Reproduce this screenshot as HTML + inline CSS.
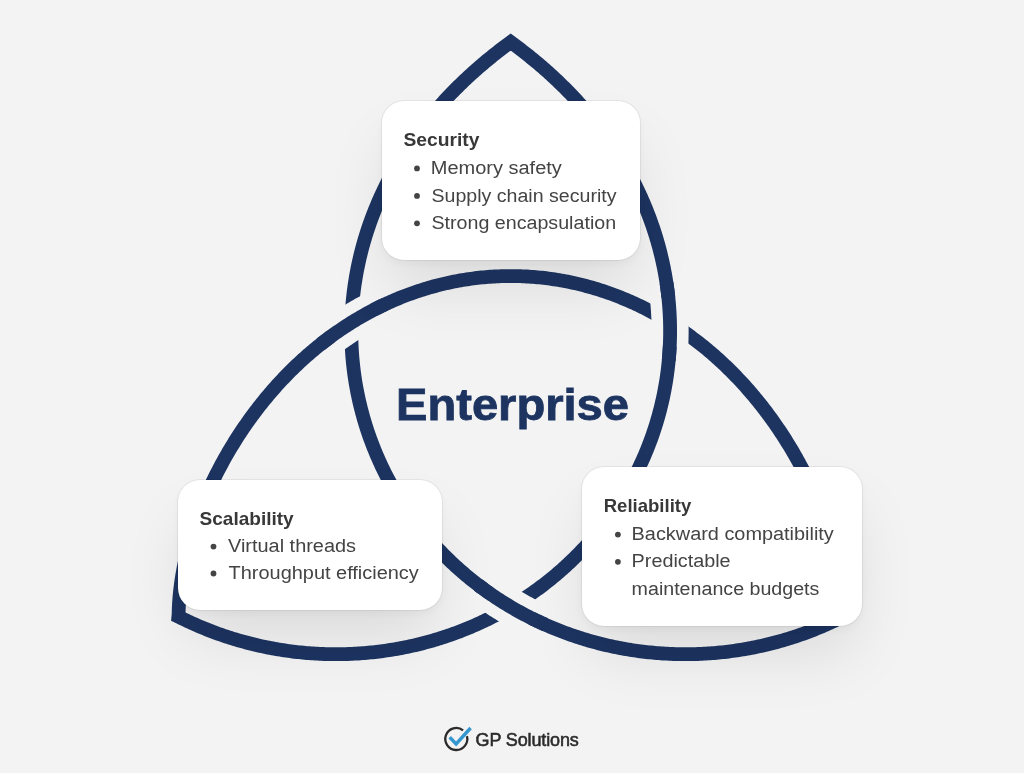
<!DOCTYPE html>
<html><head><meta charset="utf-8">
<style>
html,body{margin:0;padding:0;}
body{width:1024px;height:773px;overflow:hidden;position:relative;background:#f3f3f3;font-family:"Liberation Sans",sans-serif;}
.layer{position:absolute;left:0;top:0;width:1024px;height:773px;}
.box{position:absolute;background:#fff;border-radius:22px;box-shadow:0 0 0 1px rgba(0,0,0,0.055),0 4px 8px rgba(0,0,0,0.035),0 34px 64px -8px rgba(0,0,0,0.10);}
</style></head><body>
<svg class="layer" width="1024" height="773" viewBox="0 0 1024 773">
<defs>
<mask id="m" maskUnits="userSpaceOnUse" x="0" y="0" width="1024" height="773">
<rect x="0" y="0" width="1024" height="773" fill="#fff"/>
<g fill="none" stroke="#000" stroke-width="37" stroke-linecap="butt">
<path d="M330.66,336.66 L332.36,335.42 L334.07,334.19 L335.79,332.97 L337.51,331.76 L339.25,330.56 L340.99,329.37 L342.74,328.19 L344.50,327.02 L346.26,325.87 L348.04,324.72 L349.82,323.58 L351.61,322.46 L353.41,321.35 L355.22,320.25 L357.04,319.16 L358.86,318.08 L360.69,317.01 L362.53,315.96 L364.37,314.91 L366.23,313.88 L368.09,312.86 L369.96,311.86 L371.83,310.86 L373.71,309.88"/><path d="M668.33,297.27 L668.54,299.31 L668.74,301.35 L668.92,303.39 L669.09,305.43 L669.25,307.47 L669.39,309.51 L669.52,311.56 L669.64,313.60 L669.75,315.65 L669.84,317.69 L669.92,319.74 L669.98,321.79 L670.03,323.83 L670.07,325.88 L670.10,327.93 L670.11,329.98 L670.11,332.03 L670.10,334.08 L670.07,336.13 L670.03,338.18 L669.97,340.23 L669.91,342.28 L669.83,344.32 L669.73,346.37"/><path d="M489.61,593.32 L491.28,594.49 L492.97,595.64 L494.66,596.78 L496.36,597.91 L498.07,599.03 L499.78,600.14 L501.50,601.24 L503.23,602.33 L504.96,603.41 L506.70,604.48 L508.45,605.53 L510.20,606.58 L511.96,607.62 L513.73,608.64 L515.50,609.65 L517.28,610.66 L519.06,611.65 L520.85,612.63 L522.65,613.60 L524.45,614.56 L526.25,615.51 L528.07,616.45 L529.88,617.37 L531.71,618.29"/>
</g></mask>
</defs>
<path d="M510.70,42.10 L509.01,43.33 L507.33,44.57 L505.66,45.81 L503.99,47.06 L502.33,48.31 L500.68,49.57 L499.03,50.84 L497.39,52.11 L495.76,53.39 L494.13,54.68 L492.51,55.97 L490.90,57.27 L489.29,58.57 L487.69,59.89 L486.10,61.20 L484.51,62.53 L482.93,63.86 L481.36,65.19 L479.79,66.54 L478.24,67.89 L476.68,69.25 L475.14,70.61 L473.60,71.98 L472.07,73.35 L470.55,74.74 L469.04,76.13 L467.53,77.52 L466.03,78.93 L464.53,80.34 L463.05,81.75 L461.57,83.18 L460.10,84.60 L458.63,86.04 L457.18,87.48 L455.73,88.93 L454.29,90.39 L452.85,91.85 L451.43,93.32 L450.01,94.80 L448.60,96.28 L447.20,97.77 L445.80,99.27 L444.42,100.77 L443.04,102.28 L441.67,103.80 L440.31,105.33 L438.95,106.86 L437.61,108.39 L436.27,109.94 L434.94,111.49 L433.62,113.05 L432.31,114.61 L431.01,116.18 L429.71,117.76 L428.42,119.34 L427.15,120.93 L425.88,122.53 L424.62,124.14 L423.36,125.75 L422.12,127.36 L420.89,128.99 L419.66,130.62 L418.45,132.26 L417.24,133.90 L416.04,135.55 L414.85,137.21 L413.68,138.87 L412.51,140.54 L411.35,142.21 L410.19,143.90 L409.05,145.58 L407.92,147.28 L406.80,148.98 L405.69,150.69 L404.58,152.40 L403.49,154.12 L402.41,155.85 L401.33,157.58 L400.27,159.32 L399.22,161.06 L398.17,162.81 L397.14,164.57 L396.11,166.33 L395.10,168.10 L394.10,169.87 L393.11,171.65 L392.12,173.44 L391.15,175.23 L390.19,177.03 L389.24,178.83 L388.30,180.64 L387.37,182.45 L386.45,184.27 L385.54,186.10 L384.65,187.93 L383.76,189.77 L382.88,191.61 L382.02,193.45 L381.17,195.30 L380.32,197.16 L379.49,199.02 L378.67,200.89 L377.86,202.76 L377.06,204.64 L376.28,206.52 L375.50,208.41 L374.74,210.30 L373.99,212.20 L373.25,214.10 L372.52,216.00 L371.80,217.92 L371.09,219.83 L370.40,221.75 L369.72,223.67 L369.04,225.60 L368.39,227.53 L367.74,229.47 L367.10,231.41 L366.48,233.35 L365.87,235.30 L365.27,237.25 L364.68,239.21 L364.11,241.17 L363.54,243.13 L362.99,245.10 L362.46,247.07 L361.93,249.05 L361.42,251.02 L360.91,253.00 L360.42,254.99 L359.95,256.98 L359.48,258.97 L359.03,260.96 L358.59,262.96 L358.17,264.96 L357.75,266.96 L357.35,268.96 L356.96,270.97 L356.58,272.98 L356.22,274.99 L355.87,277.01 L355.53,279.03 L355.21,281.05 L354.89,283.07 L354.59,285.09 L354.31,287.12 L354.03,289.15 L353.77,291.17 L353.52,293.21 L353.29,295.24 L353.07,297.27 L352.86,299.31 L352.66,301.35 L352.48,303.39 L352.31,305.43 L352.15,307.47 L352.01,309.51 L351.88,311.56 L351.76,313.60 L351.65,315.65 L351.56,317.69 L351.48,319.74 L351.42,321.79 L351.37,323.83 L351.33,325.88 L351.30,327.93 L351.29,329.98 L351.29,332.03 L351.30,334.08 L351.33,336.13 L351.37,338.18 L351.43,340.23 L351.49,342.28 L351.57,344.32 L351.67,346.37 L351.77,348.42 L351.89,350.46 L352.03,352.51 L352.17,354.56 L352.33,356.60 L352.51,358.64 L352.69,360.68 L352.89,362.73 L353.11,364.77 L353.33,366.80 L353.57,368.84 L353.82,370.88 L354.09,372.91 L354.37,374.94 L354.66,376.97 L354.96,379.00 L355.28,381.03 L355.61,383.05 L355.96,385.07 L356.32,387.09 L356.69,389.11 L357.07,391.13 L357.47,393.14 L357.88,395.15 L358.30,397.16 L358.74,399.16 L359.19,401.16 L359.65,403.16 L360.12,405.16 L360.61,407.15 L361.11,409.14 L361.63,411.12 L362.16,413.11 L362.69,415.09 L363.25,417.06 L363.81,419.04 L364.39,421.00 L364.98,422.97 L365.59,424.93 L366.20,426.89 L366.83,428.84 L367.47,430.79 L368.13,432.73 L368.79,434.67 L369.47,436.61 L370.17,438.54 L370.87,440.47 L371.59,442.39 L372.32,444.31 L373.06,446.22 L373.81,448.13 L374.58,450.03 L375.36,451.93 L376.15,453.82 L376.95,455.71 L377.77,457.59 L378.60,459.47 L379.44,461.34 L380.29,463.21 L381.15,465.07 L382.03,466.92 L382.91,468.77 L383.81,470.61 L384.72,472.45 L385.65,474.28 L386.58,476.11 L387.53,477.93 L388.49,479.74 L389.46,481.55 L390.44,483.35 L391.43,485.14 L392.44,486.93 L393.45,488.71 L394.48,490.48 L395.52,492.25 L396.57,494.01 L397.63,495.76 L398.70,497.51 L399.78,499.25 L400.88,500.98 L401.98,502.71 L403.10,504.43 L404.23,506.14 L405.36,507.85 L406.51,509.54 L407.67,511.23 L408.84,512.91 L410.02,514.59 L411.21,516.25 L412.42,517.91 L413.63,519.56 L414.85,521.21 L416.09,522.84 L417.33,524.47 L418.58,526.09 L419.85,527.70 L421.12,529.30 L422.40,530.90 L423.70,532.49 L425.00,534.06 L426.32,535.63 L427.64,537.20 L428.97,538.75 L430.32,540.29 L431.67,541.83 L433.03,543.36 L434.41,544.87 L435.79,546.38 L437.18,547.89 L438.58,549.38 L439.99,550.86 L441.41,552.34 L442.83,553.80 L444.27,555.26 L445.72,556.70 L447.17,558.14 L448.64,559.57 L450.11,560.99 L451.59,562.40 L453.08,563.80 L454.58,565.19 L456.09,566.57 L457.60,567.94 L459.13,569.31 L460.66,570.66 L462.20,572.00 L463.75,573.34 L465.31,574.66 L466.87,575.97 L468.45,577.28 L470.03,578.57 L471.62,579.86 L473.22,581.13 L474.82,582.40 L476.43,583.65 L478.05,584.90 L479.68,586.13 L481.32,587.35 L482.96,588.57 L484.61,589.77 L486.27,590.97 L487.93,592.15 L489.61,593.32 L491.28,594.49 L492.97,595.64 L494.66,596.78 L496.36,597.91 L498.07,599.03 L499.78,600.14 L501.50,601.24 L503.23,602.33 L504.96,603.41 L506.70,604.48 L508.45,605.53 L510.20,606.58 L511.96,607.62 L513.73,608.64 L515.50,609.65 L517.28,610.66 L519.06,611.65 L520.85,612.63 L522.65,613.60 L524.45,614.56 L526.25,615.51 L528.07,616.45 L529.88,617.37 L531.71,618.29 L533.54,619.19 L535.37,620.09 L537.21,620.97 L539.06,621.84 L540.91,622.70 L542.76,623.55 L544.62,624.39 L546.49,625.21 L548.36,626.03 L550.23,626.83 L552.11,627.63 L554.00,628.41 L555.89,629.18 L557.78,629.94 L559.68,630.68 L561.58,631.42 L563.49,632.14 L565.40,632.86 L567.32,633.56 L569.24,634.25 L571.16,634.93 L573.09,635.59 L575.03,636.25 L576.96,636.89 L578.90,637.52 L580.85,638.14 L582.79,638.75 L584.74,639.35 L586.70,639.94 L588.66,640.51 L590.62,641.08 L592.58,641.63 L594.55,642.17 L596.52,642.69 L598.50,643.21 L600.48,643.71 L602.46,644.21 L604.44,644.69 L606.43,645.16 L608.42,645.62 L610.41,646.06 L612.41,646.50 L614.41,646.92 L616.41,647.33 L618.41,647.73 L620.41,648.11 L622.42,648.49 L624.43,648.85 L626.45,649.20 L628.46,649.54 L630.48,649.87 L632.50,650.19 L634.52,650.49 L636.54,650.78 L638.56,651.06 L640.59,651.33 L642.62,651.59 L644.65,651.83 L646.68,652.06 L648.71,652.29 L650.75,652.49 L652.78,652.69 L654.82,652.88 L656.86,653.05 L658.90,653.21 L660.94,653.36 L662.98,653.50 L665.03,653.62 L667.07,653.73 L669.12,653.84 L671.16,653.92 L673.21,654.00 L675.26,654.07 L677.30,654.12 L679.35,654.16 L681.40,654.19 L683.45,654.21 L685.50,654.21 L687.55,654.21 L689.60,654.19 L691.65,654.16 L693.70,654.11 L695.76,654.06 L697.81,653.99 L699.86,653.91 L701.91,653.82 L703.96,653.72 L706.01,653.60 L708.06,653.47 L710.11,653.34 L712.16,653.18 L714.21,653.02 L716.25,652.84 L718.30,652.66 L720.35,652.46 L722.39,652.25 L724.44,652.02 L726.48,651.79 L728.53,651.54 L730.57,651.28 L732.61,651.01 L734.65,650.72 L736.69,650.43 L738.72,650.12 L740.76,649.80 L742.79,649.47 L744.83,649.12 L746.86,648.77 L748.89,648.40 L750.92,648.02 L752.94,647.62 L754.97,647.22 L756.99,646.80 L759.01,646.37 L761.03,645.93 L763.04,645.48 L765.06,645.02 L767.07,644.54 L769.08,644.05 L771.08,643.55 L773.09,643.04 L775.09,642.51 L777.09,641.97 L779.09,641.42 L781.08,640.86 L783.07,640.29 L785.06,639.70 L787.04,639.11 L789.03,638.50 L791.01,637.88 L792.98,637.24 L794.95,636.60 L796.92,635.94 L798.89,635.27 L800.85,634.59 L802.81,633.90 L804.77,633.19 L806.72,632.48 L808.67,631.75 L810.61,631.01 L812.55,630.25 L814.49,629.49 L816.42,628.71 L818.35,627.92 L820.27,627.12 L822.19,626.31 L824.10,625.49 L826.01,624.65 L827.92,623.80 L829.82,622.94 L831.72,622.07 L833.61,621.19 L835.50,620.29 L837.38,619.39 L839.26,618.47 L841.13,617.54 L843.00,616.60 L842.79,614.52 L842.75,612.45 L842.70,610.37 L842.62,608.29 L842.53,606.22 L842.42,604.15 L842.29,602.07 L842.14,600.00 L841.98,597.93 L841.80,595.86 L841.61,593.79 L841.39,591.73 L841.17,589.66 L840.92,587.60 L840.66,585.54 L840.39,583.48 L840.10,581.43 L839.79,579.38 L839.47,577.33 L839.13,575.28 L838.78,573.24 L838.42,571.19 L838.04,569.16 L837.65,567.12 L837.24,565.09 L836.82,563.06 L836.39,561.03 L835.94,559.01 L835.48,556.99 L835.01,554.98 L834.53,552.96 L834.03,550.96 L833.52,548.95 L832.99,546.95 L832.46,544.95 L831.91,542.96 L831.35,540.97 L830.78,538.98 L830.19,537.00 L829.60,535.02 L828.99,533.05 L828.37,531.08 L827.74,529.11 L827.10,527.15 L826.45,525.19 L825.79,523.24 L825.11,521.29 L824.43,519.34 L823.73,517.40 L823.03,515.47 L822.31,513.54 L821.58,511.61 L820.85,509.68 L820.10,507.77 L819.34,505.85 L818.57,503.94 L817.80,502.03 L817.01,500.13 L816.21,498.24 L815.40,496.34 L814.59,494.46 L813.76,492.57 L812.92,490.69 L812.08,488.82 L811.22,486.95 L810.36,485.09 L809.48,483.23 L808.60,481.37 L807.70,479.52 L806.80,477.67 L805.89,475.83 L804.97,473.99 L804.04,472.16 L803.10,470.34 L802.15,468.51 L801.19,466.70 L800.22,464.88 L799.25,463.08 L798.26,461.27 L797.27,459.47 L796.27,457.68 L795.25,455.89 L794.23,454.11 L793.20,452.33 L792.17,450.56 L791.12,448.79 L790.06,447.03 L789.00,445.27 L787.92,443.52 L786.84,441.77 L785.75,440.03 L784.65,438.29 L783.54,436.56 L782.42,434.83 L781.29,433.11 L780.16,431.40 L779.01,429.69 L777.86,427.98 L776.70,426.28 L775.52,424.59 L774.34,422.90 L773.16,421.22 L771.96,419.54 L770.75,417.87 L769.54,416.20 L768.31,414.55 L767.08,412.89 L765.84,411.24 L764.59,409.60 L763.33,407.97 L762.06,406.34 L760.78,404.71 L759.50,403.10 L758.20,401.49 L756.90,399.88 L755.58,398.28 L754.26,396.69 L752.93,395.11 L751.59,393.53 L750.25,391.96 L748.89,390.39 L747.52,388.83 L746.15,387.28 L744.76,385.74 L743.37,384.20 L741.97,382.67 L740.56,381.15 L739.14,379.63 L737.71,378.12 L736.27,376.62 L734.83,375.13 L733.37,373.64 L731.91,372.16 L730.43,370.69 L728.95,369.23 L727.46,367.77 L725.96,366.32 L724.45,364.88 L722.94,363.45 L721.41,362.03 L719.87,360.61 L718.33,359.21 L716.78,357.81 L715.22,356.42 L713.65,355.04 L712.07,353.66 L710.48,352.30 L708.88,350.95 L707.28,349.60 L705.66,348.26 L704.04,346.94 L702.41,345.62 L700.77,344.31 L699.12,343.01 L697.46,341.72 L695.79,340.44 L694.12,339.17 L692.43,337.91 L690.74,336.66 L689.04,335.42 L687.33,334.19 L685.61,332.97 L683.89,331.76 L682.15,330.56 L680.41,329.37 L678.66,328.19 L676.90,327.02 L675.14,325.87 L673.36,324.72 L671.58,323.58 L669.79,322.46 L667.99,321.35 L666.18,320.25 L664.36,319.16 L662.54,318.08 L660.71,317.01 L658.87,315.96 L657.03,314.91 L655.17,313.88 L653.31,312.86 L651.44,311.86 L649.57,310.86 L647.69,309.88 L645.80,308.91 L643.90,307.95 L641.99,307.00 L640.08,306.07 L638.16,305.15 L636.24,304.24 L634.30,303.35 L632.37,302.47 L630.42,301.60 L628.47,300.74 L626.51,299.90 L624.54,299.07 L622.57,298.26 L620.59,297.46 L618.61,296.67 L616.62,295.89 L614.62,295.13 L612.62,294.39 L610.62,293.65 L608.60,292.93 L606.58,292.23 L604.56,291.54 L602.53,290.86 L600.49,290.20 L598.45,289.55 L596.41,288.92 L594.36,288.30 L592.31,287.70 L590.25,287.11 L588.18,286.53 L586.11,285.97 L584.04,285.43 L581.96,284.90 L579.88,284.38 L577.79,283.88 L575.70,283.39 L573.61,282.92 L571.51,282.47 L569.41,282.03 L567.31,281.60 L565.20,281.19 L563.09,280.80 L560.98,280.42 L558.86,280.06 L556.74,279.71 L554.62,279.38 L552.49,279.06 L550.36,278.76 L548.23,278.48 L546.10,278.21 L543.97,277.95 L541.83,277.71 L539.69,277.49 L537.55,277.28 L535.41,277.09 L533.26,276.92 L531.12,276.76 L528.97,276.62 L526.83,276.49 L524.68,276.38 L522.53,276.28 L520.38,276.20 L518.23,276.14 L516.08,276.09 L513.93,276.06 L511.78,276.04 L509.62,276.04 L507.47,276.06 L505.32,276.09 L503.17,276.14 L501.02,276.20 L498.87,276.28 L496.72,276.38 L494.57,276.49 L492.43,276.62 L490.28,276.76 L488.14,276.92 L485.99,277.09 L483.85,277.28 L481.71,277.49 L479.57,277.71 L477.43,277.95 L475.30,278.21 L473.17,278.48 L471.04,278.76 L468.91,279.06 L466.78,279.38 L464.66,279.71 L462.54,280.06 L460.42,280.42 L458.31,280.80 L456.20,281.19 L454.09,281.60 L451.99,282.03 L449.89,282.47 L447.79,282.92 L445.70,283.39 L443.61,283.88 L441.52,284.38 L439.44,284.90 L437.36,285.43 L435.29,285.97 L433.22,286.53 L431.15,287.11 L429.09,287.70 L427.04,288.30 L424.99,288.92 L422.95,289.55 L420.91,290.20 L418.87,290.86 L416.84,291.54 L414.82,292.23 L412.80,292.93 L410.78,293.65 L408.78,294.39 L406.78,295.13 L404.78,295.89 L402.79,296.67 L400.81,297.46 L398.83,298.26 L396.86,299.07 L394.89,299.90 L392.93,300.74 L390.98,301.60 L389.03,302.47 L387.10,303.35 L385.16,304.24 L383.24,305.15 L381.32,306.07 L379.41,307.00 L377.50,307.95 L375.60,308.91 L373.71,309.88 L371.83,310.86 L369.96,311.86 L368.09,312.86 L366.23,313.88 L364.37,314.91 L362.53,315.96 L360.69,317.01 L358.86,318.08 L357.04,319.16 L355.22,320.25 L353.41,321.35 L351.61,322.46 L349.82,323.58 L348.04,324.72 L346.26,325.87 L344.50,327.02 L342.74,328.19 L340.99,329.37 L339.25,330.56 L337.51,331.76 L335.79,332.97 L334.07,334.19 L332.36,335.42 L330.66,336.66 L328.97,337.91 L327.28,339.17 L325.61,340.44 L323.94,341.72 L322.28,343.01 L320.63,344.31 L318.99,345.62 L317.36,346.94 L315.74,348.26 L314.12,349.60 L312.52,350.95 L310.92,352.30 L309.33,353.66 L307.75,355.04 L306.18,356.42 L304.62,357.81 L303.07,359.21 L301.53,360.61 L299.99,362.03 L298.46,363.45 L296.95,364.88 L295.44,366.32 L293.94,367.77 L292.45,369.23 L290.97,370.69 L289.49,372.16 L288.03,373.64 L286.57,375.13 L285.13,376.62 L283.69,378.12 L282.26,379.63 L280.84,381.15 L279.43,382.67 L278.03,384.20 L276.64,385.74 L275.25,387.28 L273.88,388.83 L272.51,390.39 L271.15,391.96 L269.81,393.53 L268.47,395.11 L267.14,396.69 L265.82,398.28 L264.50,399.88 L263.20,401.49 L261.90,403.10 L260.62,404.71 L259.34,406.34 L258.07,407.97 L256.81,409.60 L255.56,411.24 L254.32,412.89 L253.09,414.55 L251.86,416.20 L250.65,417.87 L249.44,419.54 L248.24,421.22 L247.06,422.90 L245.88,424.59 L244.70,426.28 L243.54,427.98 L242.39,429.69 L241.24,431.40 L240.11,433.11 L238.98,434.83 L237.86,436.56 L236.75,438.29 L235.65,440.03 L234.56,441.77 L233.48,443.52 L232.40,445.27 L231.34,447.03 L230.28,448.79 L229.23,450.56 L228.20,452.33 L227.17,454.11 L226.15,455.89 L225.13,457.68 L224.13,459.47 L223.14,461.27 L222.15,463.08 L221.18,464.88 L220.21,466.70 L219.25,468.51 L218.30,470.34 L217.36,472.16 L216.43,473.99 L215.51,475.83 L214.60,477.67 L213.70,479.52 L212.80,481.37 L211.92,483.23 L211.04,485.09 L210.18,486.95 L209.32,488.82 L208.48,490.69 L207.64,492.57 L206.81,494.46 L206.00,496.34 L205.19,498.24 L204.39,500.13 L203.60,502.03 L202.83,503.94 L202.06,505.85 L201.30,507.77 L200.55,509.68 L199.82,511.61 L199.09,513.54 L198.37,515.47 L197.67,517.40 L196.97,519.34 L196.29,521.29 L195.61,523.24 L194.95,525.19 L194.30,527.15 L193.66,529.11 L193.03,531.08 L192.41,533.05 L191.80,535.02 L191.21,537.00 L190.62,538.98 L190.05,540.97 L189.49,542.96 L188.94,544.95 L188.41,546.95 L187.88,548.95 L187.37,550.96 L186.87,552.96 L186.39,554.98 L185.92,556.99 L185.46,559.01 L185.01,561.03 L184.58,563.06 L184.16,565.09 L183.75,567.12 L183.36,569.16 L182.98,571.19 L182.62,573.24 L182.27,575.28 L181.93,577.33 L181.61,579.38 L181.30,581.43 L181.01,583.48 L180.74,585.54 L180.48,587.60 L180.23,589.66 L180.01,591.73 L179.79,593.79 L179.60,595.86 L179.42,597.93 L179.26,600.00 L179.11,602.07 L178.98,604.15 L178.87,606.22 L178.78,608.29 L178.70,610.37 L178.65,612.45 L178.61,614.52 L178.40,616.60 L180.27,617.54 L182.14,618.47 L184.02,619.39 L185.90,620.29 L187.79,621.19 L189.68,622.07 L191.58,622.94 L193.48,623.80 L195.39,624.65 L197.30,625.49 L199.21,626.31 L201.13,627.12 L203.05,627.92 L204.98,628.71 L206.91,629.49 L208.85,630.25 L210.79,631.01 L212.73,631.75 L214.68,632.48 L216.63,633.19 L218.59,633.90 L220.55,634.59 L222.51,635.27 L224.48,635.94 L226.45,636.60 L228.42,637.24 L230.39,637.88 L232.37,638.50 L234.36,639.11 L236.34,639.70 L238.33,640.29 L240.32,640.86 L242.31,641.42 L244.31,641.97 L246.31,642.51 L248.31,643.04 L250.32,643.55 L252.32,644.05 L254.33,644.54 L256.34,645.02 L258.36,645.48 L260.37,645.93 L262.39,646.37 L264.41,646.80 L266.43,647.22 L268.46,647.62 L270.48,648.02 L272.51,648.40 L274.54,648.77 L276.57,649.12 L278.61,649.47 L280.64,649.80 L282.68,650.12 L284.71,650.43 L286.75,650.72 L288.79,651.01 L290.83,651.28 L292.87,651.54 L294.92,651.79 L296.96,652.02 L299.01,652.25 L301.05,652.46 L303.10,652.66 L305.15,652.84 L307.19,653.02 L309.24,653.18 L311.29,653.34 L313.34,653.47 L315.39,653.60 L317.44,653.72 L319.49,653.82 L321.54,653.91 L323.59,653.99 L325.64,654.06 L327.70,654.11 L329.75,654.16 L331.80,654.19 L333.85,654.21 L335.90,654.21 L337.95,654.21 L340.00,654.19 L342.05,654.16 L344.10,654.12 L346.14,654.07 L348.19,654.00 L350.24,653.92 L352.28,653.84 L354.33,653.73 L356.37,653.62 L358.42,653.50 L360.46,653.36 L362.50,653.21 L364.54,653.05 L366.58,652.88 L368.62,652.69 L370.65,652.49 L372.69,652.29 L374.72,652.06 L376.75,651.83 L378.78,651.59 L380.81,651.33 L382.84,651.06 L384.86,650.78 L386.88,650.49 L388.90,650.19 L390.92,649.87 L392.94,649.54 L394.95,649.20 L396.97,648.85 L398.98,648.49 L400.99,648.11 L402.99,647.73 L404.99,647.33 L406.99,646.92 L408.99,646.50 L410.99,646.06 L412.98,645.62 L414.97,645.16 L416.96,644.69 L418.94,644.21 L420.92,643.71 L422.90,643.21 L424.88,642.69 L426.85,642.17 L428.82,641.63 L430.78,641.08 L432.74,640.51 L434.70,639.94 L436.66,639.35 L438.61,638.75 L440.55,638.14 L442.50,637.52 L444.44,636.89 L446.37,636.25 L448.31,635.59 L450.24,634.93 L452.16,634.25 L454.08,633.56 L456.00,632.86 L457.91,632.14 L459.82,631.42 L461.72,630.68 L463.62,629.94 L465.51,629.18 L467.40,628.41 L469.29,627.63 L471.17,626.83 L473.04,626.03 L474.91,625.21 L476.78,624.39 L478.64,623.55 L480.49,622.70 L482.34,621.84 L484.19,620.97 L486.03,620.09 L487.86,619.19 L489.69,618.29 L491.52,617.37 L493.33,616.45 L495.15,615.51 L496.95,614.56 L498.75,613.60 L500.55,612.63 L502.34,611.65 L504.12,610.66 L505.90,609.65 L507.67,608.64 L509.44,607.62 L511.20,606.58 L512.95,605.53 L514.70,604.48 L516.44,603.41 L518.17,602.33 L519.90,601.24 L521.62,600.14 L523.33,599.03 L525.04,597.91 L526.74,596.78 L528.43,595.64 L530.12,594.49 L531.79,593.32 L533.47,592.15 L535.13,590.97 L536.79,589.77 L538.44,588.57 L540.08,587.35 L541.72,586.13 L543.35,584.90 L544.97,583.65 L546.58,582.40 L548.18,581.13 L549.78,579.86 L551.37,578.57 L552.95,577.28 L554.53,575.97 L556.09,574.66 L557.65,573.34 L559.20,572.00 L560.74,570.66 L562.27,569.31 L563.80,567.94 L565.31,566.57 L566.82,565.19 L568.32,563.80 L569.81,562.40 L571.29,560.99 L572.76,559.57 L574.23,558.14 L575.68,556.70 L577.13,555.26 L578.57,553.80 L579.99,552.34 L581.41,550.86 L582.82,549.38 L584.22,547.89 L585.61,546.38 L586.99,544.87 L588.37,543.36 L589.73,541.83 L591.08,540.29 L592.43,538.75 L593.76,537.20 L595.08,535.63 L596.40,534.06 L597.70,532.49 L599.00,530.90 L600.28,529.30 L601.55,527.70 L602.82,526.09 L604.07,524.47 L605.31,522.84 L606.55,521.21 L607.77,519.56 L608.98,517.91 L610.19,516.25 L611.38,514.59 L612.56,512.91 L613.73,511.23 L614.89,509.54 L616.04,507.85 L617.17,506.14 L618.30,504.43 L619.42,502.71 L620.52,500.98 L621.62,499.25 L622.70,497.51 L623.77,495.76 L624.83,494.01 L625.88,492.25 L626.92,490.48 L627.95,488.71 L628.96,486.93 L629.97,485.14 L630.96,483.35 L631.94,481.55 L632.91,479.74 L633.87,477.93 L634.82,476.11 L635.75,474.28 L636.68,472.45 L637.59,470.61 L638.49,468.77 L639.37,466.92 L640.25,465.07 L641.11,463.21 L641.96,461.34 L642.80,459.47 L643.63,457.59 L644.45,455.71 L645.25,453.82 L646.04,451.93 L646.82,450.03 L647.59,448.13 L648.34,446.22 L649.08,444.31 L649.81,442.39 L650.53,440.47 L651.23,438.54 L651.93,436.61 L652.61,434.67 L653.27,432.73 L653.93,430.79 L654.57,428.84 L655.20,426.89 L655.81,424.93 L656.42,422.97 L657.01,421.00 L657.59,419.04 L658.15,417.06 L658.71,415.09 L659.24,413.11 L659.77,411.12 L660.29,409.14 L660.79,407.15 L661.28,405.16 L661.75,403.16 L662.21,401.16 L662.66,399.16 L663.10,397.16 L663.52,395.15 L663.93,393.14 L664.33,391.13 L664.71,389.11 L665.08,387.09 L665.44,385.07 L665.79,383.05 L666.12,381.03 L666.44,379.00 L666.74,376.97 L667.03,374.94 L667.31,372.91 L667.58,370.88 L667.83,368.84 L668.07,366.80 L668.29,364.77 L668.51,362.73 L668.71,360.68 L668.89,358.64 L669.07,356.60 L669.23,354.56 L669.37,352.51 L669.51,350.46 L669.63,348.42 L669.73,346.37 L669.83,344.32 L669.91,342.28 L669.97,340.23 L670.03,338.18 L670.07,336.13 L670.10,334.08 L670.11,332.03 L670.11,329.98 L670.10,327.93 L670.07,325.88 L670.03,323.83 L669.98,321.79 L669.92,319.74 L669.84,317.69 L669.75,315.65 L669.64,313.60 L669.52,311.56 L669.39,309.51 L669.25,307.47 L669.09,305.43 L668.92,303.39 L668.74,301.35 L668.54,299.31 L668.33,297.27 L668.11,295.24 L667.88,293.21 L667.63,291.17 L667.37,289.15 L667.09,287.12 L666.81,285.09 L666.51,283.07 L666.19,281.05 L665.87,279.03 L665.53,277.01 L665.18,274.99 L664.82,272.98 L664.44,270.97 L664.05,268.96 L663.65,266.96 L663.23,264.96 L662.81,262.96 L662.37,260.96 L661.92,258.97 L661.45,256.98 L660.98,254.99 L660.49,253.00 L659.98,251.02 L659.47,249.05 L658.94,247.07 L658.41,245.10 L657.86,243.13 L657.29,241.17 L656.72,239.21 L656.13,237.25 L655.53,235.30 L654.92,233.35 L654.30,231.41 L653.66,229.47 L653.01,227.53 L652.36,225.60 L651.68,223.67 L651.00,221.75 L650.31,219.83 L649.60,217.92 L648.88,216.00 L648.15,214.10 L647.41,212.20 L646.66,210.30 L645.90,208.41 L645.12,206.52 L644.34,204.64 L643.54,202.76 L642.73,200.89 L641.91,199.02 L641.08,197.16 L640.23,195.30 L639.38,193.45 L638.52,191.61 L637.64,189.77 L636.75,187.93 L635.86,186.10 L634.95,184.27 L634.03,182.45 L633.10,180.64 L632.16,178.83 L631.21,177.03 L630.25,175.23 L629.28,173.44 L628.29,171.65 L627.30,169.87 L626.30,168.10 L625.29,166.33 L624.26,164.57 L623.23,162.81 L622.18,161.06 L621.13,159.32 L620.07,157.58 L618.99,155.85 L617.91,154.12 L616.82,152.40 L615.71,150.69 L614.60,148.98 L613.48,147.28 L612.35,145.58 L611.21,143.90 L610.05,142.21 L608.89,140.54 L607.72,138.87 L606.55,137.21 L605.36,135.55 L604.16,133.90 L602.95,132.26 L601.74,130.62 L600.51,128.99 L599.28,127.36 L598.04,125.75 L596.78,124.14 L595.52,122.53 L594.25,120.93 L592.98,119.34 L591.69,117.76 L590.39,116.18 L589.09,114.61 L587.78,113.05 L586.46,111.49 L585.13,109.94 L583.79,108.39 L582.45,106.86 L581.09,105.33 L579.73,103.80 L578.36,102.28 L576.98,100.77 L575.60,99.27 L574.20,97.77 L572.80,96.28 L571.39,94.80 L569.97,93.32 L568.55,91.85 L567.11,90.39 L565.67,88.93 L564.22,87.48 L562.77,86.04 L561.30,84.60 L559.83,83.18 L558.35,81.75 L556.87,80.34 L555.37,78.93 L553.87,77.52 L552.36,76.13 L550.85,74.74 L549.33,73.35 L547.80,71.98 L546.26,70.61 L544.72,69.25 L543.16,67.89 L541.61,66.54 L540.04,65.19 L538.47,63.86 L536.89,62.53 L535.30,61.20 L533.71,59.89 L532.11,58.57 L530.50,57.27 L528.89,55.97 L527.27,54.68 L525.64,53.39 L524.01,52.11 L522.37,50.84 L520.72,49.57 L519.07,48.31 L517.41,47.06 L515.74,45.81 L514.07,44.57 L512.39,43.33 Z" fill="none" stroke="#1d3461" stroke-width="13.8" stroke-linejoin="miter" stroke-miterlimit="10" mask="url(#m)"/>
<g fill="none" stroke="#1d3461" stroke-width="13.8" stroke-linecap="butt">
<path d="M320.63,344.31 L322.28,343.01 L323.94,341.72 L325.61,340.44 L327.28,339.17 L328.97,337.91 L330.66,336.66 L332.36,335.42 L334.07,334.19 L335.79,332.97 L337.51,331.76 L339.25,330.56 L340.99,329.37 L342.74,328.19 L344.50,327.02 L346.26,325.87 L348.04,324.72 L349.82,323.58 L351.61,322.46 L353.41,321.35 L355.22,320.25 L357.04,319.16 L358.86,318.08 L360.69,317.01 L362.53,315.96 L364.37,314.91 L366.23,313.88 L368.09,312.86 L369.96,311.86 L371.83,310.86 L373.71,309.88 L375.60,308.91 L377.50,307.95 L379.41,307.00 L381.32,306.07 L383.24,305.15 L385.16,304.24"/><path d="M666.51,283.07 L666.81,285.09 L667.09,287.12 L667.37,289.15 L667.63,291.17 L667.88,293.21 L668.11,295.24 L668.33,297.27 L668.54,299.31 L668.74,301.35 L668.92,303.39 L669.09,305.43 L669.25,307.47 L669.39,309.51 L669.52,311.56 L669.64,313.60 L669.75,315.65 L669.84,317.69 L669.92,319.74 L669.98,321.79 L670.03,323.83 L670.07,325.88 L670.10,327.93 L670.11,329.98 L670.11,332.03 L670.10,334.08 L670.07,336.13 L670.03,338.18 L669.97,340.23 L669.91,342.28 L669.83,344.32 L669.73,346.37 L669.63,348.42 L669.51,350.46 L669.37,352.51 L669.23,354.56 L669.07,356.60 L668.89,358.64 L668.71,360.68"/><path d="M478.05,584.90 L479.68,586.13 L481.32,587.35 L482.96,588.57 L484.61,589.77 L486.27,590.97 L487.93,592.15 L489.61,593.32 L491.28,594.49 L492.97,595.64 L494.66,596.78 L496.36,597.91 L498.07,599.03 L499.78,600.14 L501.50,601.24 L503.23,602.33 L504.96,603.41 L506.70,604.48 L508.45,605.53 L510.20,606.58 L511.96,607.62 L513.73,608.64 L515.50,609.65 L517.28,610.66 L519.06,611.65 L520.85,612.63 L522.65,613.60 L524.45,614.56 L526.25,615.51 L528.07,616.45 L529.88,617.37 L531.71,618.29 L533.54,619.19 L535.37,620.09 L537.21,620.97 L539.06,621.84 L540.91,622.70 L542.76,623.55 L544.62,624.39"/>
</g>
</svg>
<div class="box" style="left:382px;top:100.5px;width:257.5px;height:159px"></div>
<div class="box" style="left:178px;top:480px;width:264px;height:130px"></div>
<div class="box" style="left:582px;top:467px;width:280px;height:159px"></div>
<svg class="layer" width="1024" height="773" viewBox="0 0 1024 773" font-family="Liberation Sans, sans-serif" style="will-change:transform">
<g fill="#383838" font-weight="bold" font-size="18.5">
<text x="403.4" y="146.2" textLength="76" lengthAdjust="spacingAndGlyphs">Security</text>
<text x="199.5" y="524.5" textLength="94.2" lengthAdjust="spacingAndGlyphs">Scalability</text>
<text x="603.7" y="512.1" textLength="87.6" lengthAdjust="spacingAndGlyphs">Reliability</text>
</g>
<g fill="#444" font-size="18">
<text x="430.8" y="174.0" textLength="131" lengthAdjust="spacingAndGlyphs">Memory safety</text>
<text x="431.5" y="201.5" textLength="185" lengthAdjust="spacingAndGlyphs">Supply chain security</text>
<text x="431.5" y="228.9" textLength="184.6" lengthAdjust="spacingAndGlyphs">Strong encapsulation</text>
<text x="228" y="552.2" textLength="128" lengthAdjust="spacingAndGlyphs">Virtual threads</text>
<text x="228.6" y="579.1" textLength="190.2" lengthAdjust="spacingAndGlyphs">Throughput efficiency</text>
<text x="631.6" y="540.2" textLength="202.2" lengthAdjust="spacingAndGlyphs">Backward compatibility</text>
<text x="631.6" y="567.4" textLength="99" lengthAdjust="spacingAndGlyphs">Predictable</text>
<text x="631.6" y="594.8" textLength="187.8" lengthAdjust="spacingAndGlyphs">maintenance budgets</text>
</g>
<g fill="#444">
<circle cx="417" cy="168.4" r="2.9"/><circle cx="417" cy="195.9" r="2.9"/><circle cx="417" cy="223.3" r="2.9"/>
<circle cx="213.5" cy="546.6" r="2.9"/><circle cx="213.5" cy="573.5" r="2.9"/>
<circle cx="617.9" cy="534.6" r="2.9"/><circle cx="617.9" cy="561.8" r="2.9"/>
</g>
<text x="396" y="420" fill="#1d3461" font-weight="bold" font-size="44.5" textLength="233" stroke="#1d3461" stroke-width="0.8" lengthAdjust="spacingAndGlyphs">Enterprise</text>
<g>
<path d="M466.93,736.15 A11,11 0 1 1 463.07,730.33" fill="none" stroke="#2b2b2b" stroke-width="2.3"/>
<path d="M449.7,737.3 L456.1,743.9 L470.6,728" fill="none" stroke="#3597cf" stroke-width="3.4" stroke-linecap="butt" stroke-linejoin="miter"/>
<text x="475.5" y="745.6" fill="#2b2b2b" stroke="#2b2b2b" stroke-width="0.55" font-size="18" textLength="103.3" lengthAdjust="spacing" >GP Solutions</text>
</g>
</svg>
</body></html>
